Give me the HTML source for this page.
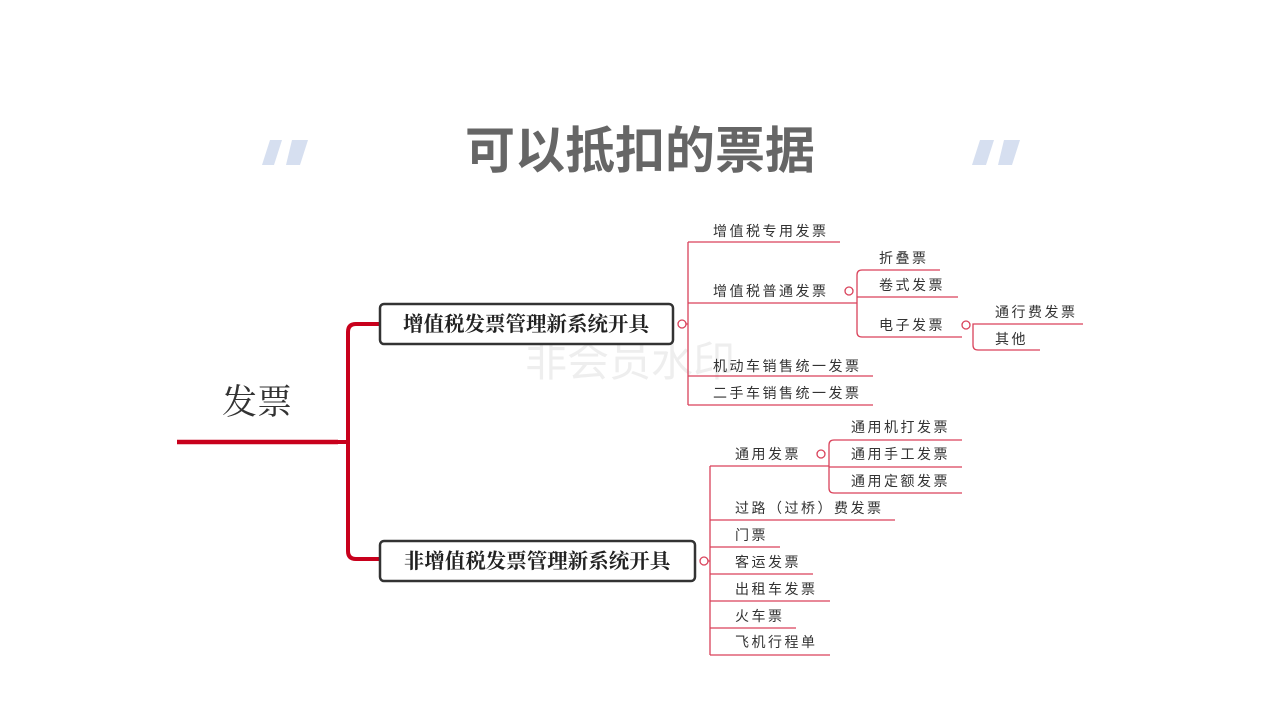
<!DOCTYPE html>
<html><head><meta charset="utf-8"><style>
body{margin:0;background:#fff;}
svg{display:block}
text{font-family:"Liberation Sans","Noto Sans CJK SC",sans-serif;}
.t{font-size:14px;fill:#333;letter-spacing:2.5px}
.l{stroke:#d9425a;stroke-width:1.3;fill:none}
</style></head><body>
<svg width="1280" height="720" viewBox="0 0 1280 720">
<g fill="#d6dff0">
<polygon points="270,140 282,140 274,165 262,165"/>
<polygon points="292,140 308,140 300,165 286,165"/>
<polygon points="980,140 994,140 986,165 972,165"/>
<polygon points="1004,140 1020,140 1012,165 998,165"/>
</g>
<text x="640" y="168" font-size="50" font-weight="bold" fill="#666" text-anchor="middle">可以抵扣的票据</text>
<text x="525" y="376" font-size="42" fill="#eee">非会员水印</text>
<text x="257" y="414" font-size="35" fill="#333" text-anchor="middle" style="font-family:'Liberation Serif','Noto Serif CJK SC',serif">发票</text>
<line x1="177" y1="442" x2="338" y2="442" stroke="#c8001c" stroke-width="4.5"/>
<path d="M338 442 H348 M380 324 H356 Q348 324 348 332 V551 Q348 559 356 559 H380" stroke="#c8001c" stroke-width="4" fill="none"/>
<rect x="380" y="304" width="293" height="40" rx="4" fill="#fff" stroke="#333" stroke-width="2.5"/>
<text x="526" y="331" font-size="20.5" font-weight="bold" fill="#222" text-anchor="middle" style="font-family:'Liberation Serif','Noto Serif CJK SC',serif">增值税发票管理新系统开具</text>
<rect x="380" y="541" width="315" height="40" rx="4" fill="#fff" stroke="#333" stroke-width="2.5"/>
<text x="537" y="568" font-size="20.5" font-weight="bold" fill="#222" text-anchor="middle" style="font-family:'Liberation Serif','Noto Serif CJK SC',serif">非增值税发票管理新系统开具</text>
<g class="l">
<circle cx="682" cy="324" r="4"/><line x1="686" y1="324" x2="688" y2="324"/>
<line x1="688" y1="242" x2="688" y2="405"/>
<line x1="688" y1="242" x2="840" y2="242"/>
<line x1="688" y1="303" x2="857" y2="303"/>
<circle cx="849" cy="291" r="4"/>
<path d="M940 270 H862 Q857 270 857 275 V332 Q857 337 862 337 H962"/>
<line x1="857" y1="297" x2="958" y2="297"/>
<circle cx="966" cy="325" r="4"/>
<path d="M1083 324 H973 V345 Q973 350 978 350 H1040"/>
<line x1="688" y1="376" x2="873" y2="376"/>
<line x1="688" y1="405" x2="873" y2="405"/>
<circle cx="704" cy="561" r="4"/><line x1="708" y1="561" x2="710" y2="561"/>
<line x1="710" y1="466" x2="710" y2="655"/>
<line x1="710" y1="466" x2="829" y2="466"/>
<circle cx="821" cy="454" r="4"/>
<path d="M962 440 H834 Q829 440 829 445 V488 Q829 493 834 493 H962"/>
<line x1="829" y1="467" x2="962" y2="467"/>
<line x1="710" y1="520" x2="895" y2="520"/>
<line x1="710" y1="547" x2="780" y2="547"/>
<line x1="710" y1="574" x2="813" y2="574"/>
<line x1="710" y1="601" x2="830" y2="601"/>
<line x1="710" y1="628" x2="796" y2="628"/>
<line x1="710" y1="655" x2="830" y2="655"/>
</g>
<g>
<text class="t" x="713" y="236">增值税专用发票</text>
<text class="t" x="713" y="296">增值税普通发票</text>
<text class="t" x="879" y="263">折叠票</text>
<text class="t" x="879" y="290">卷式发票</text>
<text class="t" x="879" y="330">电子发票</text>
<text class="t" x="995" y="317">通行费发票</text>
<text class="t" x="995" y="344">其他</text>
<text class="t" x="713" y="371">机动车销售统一发票</text>
<text class="t" x="713" y="398">二手车销售统一发票</text>
<text class="t" x="735" y="459">通用发票</text>
<text class="t" x="851" y="432">通用机打发票</text>
<text class="t" x="851" y="459">通用手工发票</text>
<text class="t" x="851" y="486">通用定额发票</text>
<text class="t" x="735" y="513">过路（过桥）费发票</text>
<text class="t" x="735" y="540">门票</text>
<text class="t" x="735" y="567">客运发票</text>
<text class="t" x="735" y="594">出租车发票</text>
<text class="t" x="735" y="621">火车票</text>
<text class="t" x="735" y="647">飞机行程单</text>
</g>
</svg>
</body></html>
